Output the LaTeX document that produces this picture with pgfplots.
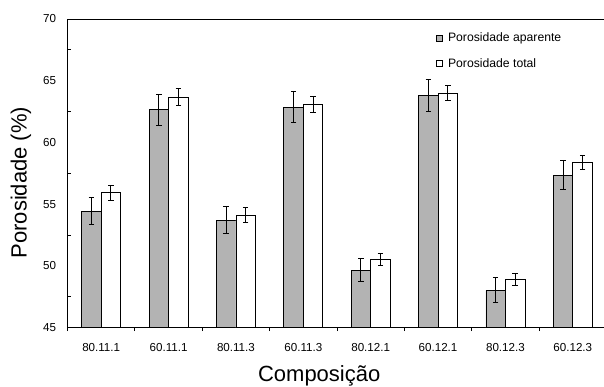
\documentclass[border=0pt]{standalone}
\usepackage{fontspec}
\setmainfont{Liberation Sans}
\usepackage{pgfplots}
\pgfplotsset{compat=1.18}
\definecolor{bargray}{RGB}{179,179,179}
\begin{document}
\begin{tikzpicture}
\useasboundingbox (0,0) rectangle (604pt,386pt);
\clip (0,0) rectangle (604pt,386pt);
\begin{axis}[
  at={(67.5pt,58.3pt)}, anchor=south west,
  scale only axis, width=539pt, height=308.7pt,
  xmin=-0.5, xmax=7.5, ymin=45, ymax=70,
  ybar=0pt, bar width=19.5pt,
  xtick={0,...,7},
  xticklabels={80.11.1,60.11.1,80.11.3,60.11.3,80.12.1,60.12.1,80.12.3,60.12.3},
  minor xtick={-0.5,0.5,...,7.5},
  ytick={45,50,...,70}, minor ytick={47.5,52.5,...,67.5},
  major tick length=0pt, minor tick length=3.5pt,
  tick align=inside,
  minor x tick style={yshift=-3.5pt},
  xtick pos=lower, ytick pos=left,
  tick style={black, line width=0.8pt},
  axis line style={line width=1pt},
  /pgf/number format/assume math mode=true,
  tick label style={font=\fontsize{11.6}{13}\selectfont, text=black},
  xticklabel style={yshift=-12pt},
  yticklabel style={xshift=-8pt},
  xlabel={Composição}, ylabel={Porosidade (\%)},
  label style={font=\fontsize{22}{24}\selectfont},
  xlabel style={at={(axis description cs:0.467,-0.1565)}, anchor=center},
  ylabel style={at={(axis description cs:-0.0863,0.47)}, anchor=center, rotate=0},
  legend style={draw=none, fill=none, at={(axis description cs:0.678,0.968)}, anchor=north west,
    font=\fontsize{12.2}{14}\selectfont, row sep=11pt, legend cell align=left},
  legend image code/.code={\draw[#1, line width=0.8pt] (0pt,-2.8pt) rectangle (5.6pt,2.8pt);
    \path[draw=none, fill=none] (0pt,0pt) rectangle (9.5pt,0.1pt);},
]
\addplot[fill=bargray, draw=black, line width=0.8pt,
  error bars/.cd, y dir=both, y explicit,
  error bar style={line width=1pt, black},
  error mark options={rotate=90, mark size=2.8pt, line width=1pt, black}]
  table[x=x, y=y, y error=e] {
x y e
0 54.45 1.1
1 62.64 1.25
2 53.72 1.13
3 62.85 1.25
4 49.67 0.95
5 63.79 1.32
6 48.03 1.0
7 57.36 1.15
};
\addplot[fill=white, draw=black, line width=0.8pt,
  error bars/.cd, y dir=both, y explicit,
  error bar style={line width=1pt, black},
  error mark options={rotate=90, mark size=2.8pt, line width=1pt, black}]
  table[x=x, y=y, y error=e] {
x y e
0 55.93 0.6
1 63.69 0.67
2 54.13 0.57
3 63.06 0.65
4 50.5 0.5
5 64.0 0.64
6 48.92 0.5
7 58.39 0.57
};
\legend{Porosidade aparente, Porosidade total}
\end{axis}
\end{tikzpicture}
\end{document}
